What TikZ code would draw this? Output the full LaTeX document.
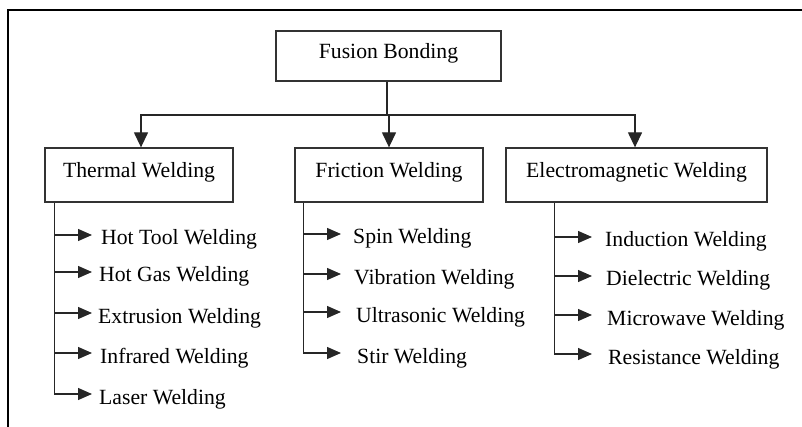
\documentclass[tikz,border=0pt]{standalone}
\usepackage{fontspec}
\setmainfont{Liberation Serif}
\usetikzlibrary{arrows.meta}
\begin{document}
\begin{tikzpicture}[x=1pt,y=-1pt,
  font=\fontsize{21.7}{26}\selectfont,
  conn/.style={draw=black!85,line width=1.3pt},
  downarr/.style={conn,-{Triangle[length=15pt,width=14pt]}},
  leafarr/.style={conn,-{Triangle[length=14pt,width=12pt]}},
  mainbox/.style={draw=black!80,line width=1.3pt,fill=white,minimum height=54pt,
    text height=12pt,text depth=6pt,inner sep=0pt},
  leaf/.style={anchor=base west,inner sep=0pt,text height=20pt,text depth=0pt}]
\useasboundingbox (0,0) rectangle (802,427);
% outer frame (cropped)
\draw[black,line width=2pt] (8,427) -- (8,10) -- (802,10);

% main boxes
\node[mainbox,minimum width=225pt,minimum height=50pt] (fusion) at (388.5,56) {Fusion Bonding};
\node[mainbox,minimum width=188pt] (thermal) at (139,175) {Thermal Welding};
\node[mainbox,minimum width=188pt] (friction) at (389,175) {Friction Welding};
\node[mainbox,minimum width=261pt] (em) at (636.5,175) {Electromagnetic Welding};

% top connectors
\coordinate (bus) at (387,115);
\draw[conn] (fusion.south -| bus) -- (bus);
\draw[downarr] (bus) -- (bus -| friction.north) -- (friction.north);
\draw[downarr] (bus) -| ([xshift=2pt]thermal.north);
\draw[downarr] (bus) -| ([xshift=-1.5pt]em.north);

% thermal leaves
\node[leaf] (t1) at (101,245) {Hot Tool Welding};
\node[leaf] (t2) at (99,282) {Hot Gas Welding};
\node[leaf] (t3) at (98,323) {Extrusion Welding};
\node[leaf] (t4) at (100,363) {Infrared Welding};
\node[leaf] (t5) at (99,404) {Laser Welding};
\coordinate (tspine) at ([xshift=10pt]thermal.south west);
\coordinate (ttip) at (92,202);
\draw[conn] (tspine) -- (tspine |- t5.west);
\foreach \n in {t1,t2,t3,t4,t5}
  \draw[leafarr] (tspine |- \n.west) -- (ttip |- \n.west);

% friction leaves
\node[leaf] (f1) at (353,244) {Spin Welding};
\node[leaf] (f2) at (354,284) {Vibration Welding};
\node[leaf] (f3) at (356,322) {Ultrasonic Welding};
\node[leaf] (f4) at (357,363) {Stir Welding};
\coordinate (fspine) at ([xshift=9pt]friction.south west);
\coordinate (ftip) at (341,202);
\draw[conn] (fspine) -- (fspine |- f4.west);
\foreach \n in {f1,f2,f3,f4}
  \draw[leafarr] (fspine |- \n.west) -- (ftip |- \n.west);

% electromagnetic leaves
\node[leaf] (e1) at (605,247) {Induction Welding};
\node[leaf] (e2) at (606,286) {Dielectric Welding};
\node[leaf] (e3) at (607,325) {Microwave Welding};
\node[leaf] (e4) at (608,364) {Resistance Welding};
\coordinate (espine) at ([xshift=49pt]em.south west);
\coordinate (etip) at (592,202);
\draw[conn] (espine) -- (espine |- e4.west);
\foreach \n in {e1,e2,e3,e4}
  \draw[leafarr] (espine |- \n.west) -- (etip |- \n.west);
\end{tikzpicture}
\end{document}
